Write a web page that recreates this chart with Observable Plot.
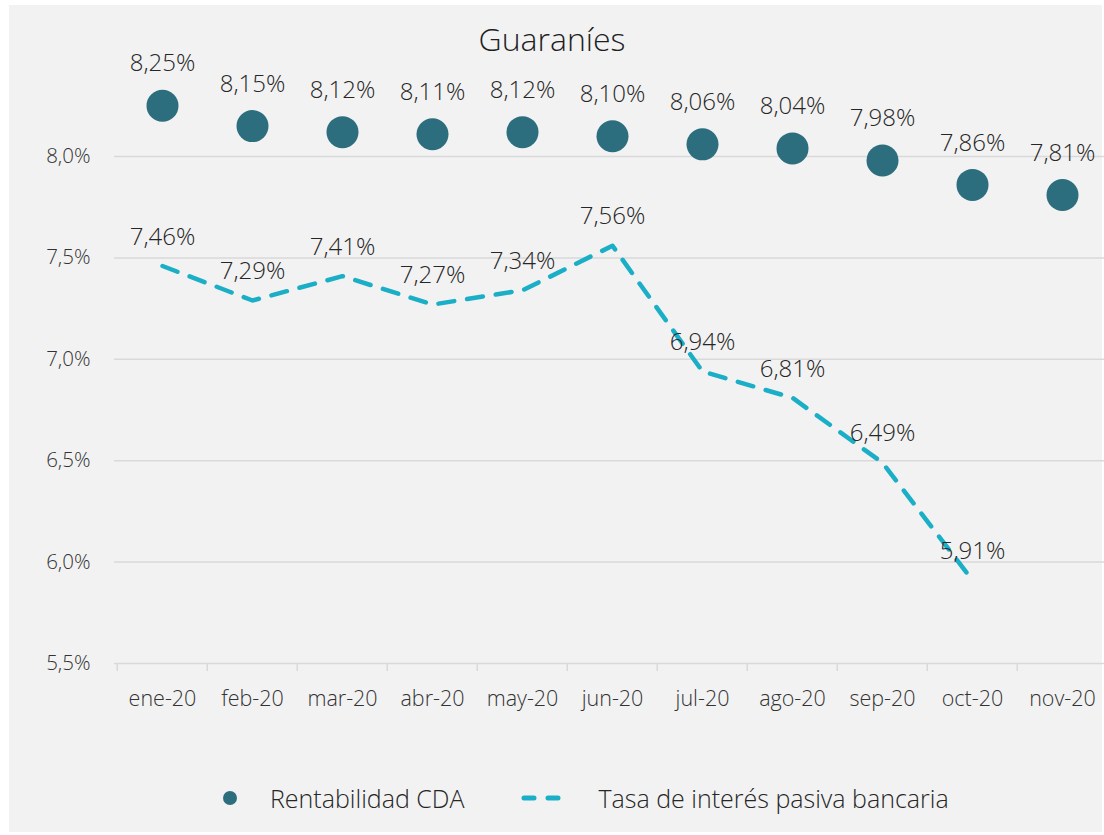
<!DOCTYPE html>
<html>
<head>
<meta charset="utf-8">
<script src="https://cdn.jsdelivr.net/npm/d3@7"></script>
<script src="https://cdn.jsdelivr.net/npm/@observablehq/plot@0.6"></script>
<style>
  body { margin: 0; background: #ffffff; font-family: "Open Sans", "Noto Sans", sans-serif; font-weight: 300; }
  #wrap { position: relative; width: 1104px; height: 835px; background: #ffffff; overflow: hidden; }
  #panel { position: absolute; left: 9px; top: 5px; width: 1093px; height: 827px; background: #f2f2f2; }
  #title { position: absolute; left: 0; top: 20px; width: 1104px; text-align: center; font-size: 32px; color: #1f1f1f; line-height: 1.2; }
  #plot { position: absolute; left: 0; top: 0; }
  #legend { position: absolute; left: 222px; top: 781px; display: flex; align-items: center; font-size: 25px; color: #262626; }
  #legend .item { display: flex; align-items: center; }
</style>
</head>
<body>
<div id="wrap">
  <div id="panel"></div>
  <div id="plot"></div>
  <div id="title">Guaraníes</div>
  <div id="legend">
    <div class="item">
      <svg width="16" height="16"><circle cx="8" cy="8" r="7" fill="#2c6e7e"/></svg>
      <span style="margin-left:32px">Rentabilidad CDA</span>
    </div>
    <div class="item" style="margin-left:56px">
      <svg width="44" height="12"><line x1="4" y1="6" x2="40" y2="6" stroke="#1aafc7" stroke-width="5" stroke-linecap="round" stroke-dasharray="10,14"/></svg>
      <span style="margin-left:34px">Tasa de interés pasiva bancaria</span>
    </div>
  </div>
</div>
<script>
const months = ["ene-20","feb-20","mar-20","abr-20","may-20","jun-20","jul-20","ago-20","sep-20","oct-20","nov-20"];
const rentabilidadCDA = [8.25,8.15,8.12,8.11,8.12,8.10,8.06,8.04,7.98,7.86,7.81];
const tasaPasiva = [7.46,7.29,7.41,7.27,7.34,7.56,6.94,6.81,6.49,5.91];
const yTicks = [5.5,6.0,6.5,7.0,7.5,8.0];

const cdaData = months.map((m,i) => ({month: m, v: rentabilidadCDA[i]}));
const tasaData = tasaPasiva.map((v,i) => ({month: months[i], v}));

const fmt2 = v => v.toFixed(2).replace(".", ",") + "%";
const fmt1 = v => v.toFixed(1).replace(".", ",") + "%";

const xRange = [114, 1109];
const halfBand = (xRange[1] - xRange[0]) / months.length / 2;

const chart = Plot.plot({
  width: 1104,
  height: 700,
  marginLeft: 114,
  marginRight: 0,
  marginTop: 54.6,
  marginBottom: 37,
  style: {background: "transparent", fontFamily: "'Open Sans', 'Noto Sans', sans-serif", fontWeight: 300, color: "#404040", overflow: "visible"},
  x: {type: "band", domain: months, range: xRange, padding: 0, label: null},
  y: {domain: [5.5, 8.5], label: null},
  marks: [
    Plot.ruleY(yTicks, {stroke: "#d9d9d9", strokeWidth: 1.5}),
    Plot.ruleX(months, {x: d => d, y1: 5.5, y2: 5.5, insetBottom: -8, dx: -halfBand, stroke: "#d9d9d9", strokeWidth: 1.5}),
    Plot.axisY({ticks: yTicks, tickSize: 0, tickPadding: 24, tickFormat: fmt1, fontSize: 20.5, fill: "#333333", label: null}),
    Plot.axisX({tickSize: 0, tickPadding: 27, fontSize: 21.5, fill: "#333333", label: null}),
    Plot.line(tasaData, {x: "month", y: "v", stroke: "#1aafc7", strokeWidth: 4.5, strokeDasharray: "16,13", strokeLinecap: "round"}),
    Plot.dot(cdaData, {x: "month", y: "v", r: 16, fill: "#2c6e7e"}),
    Plot.text(cdaData, {x: "month", y: "v", text: d => fmt2(d.v), dy: -42, fontSize: 24, fill: "#262626"}),
    Plot.text(tasaData, {x: "month", y: "v", text: d => fmt2(d.v), dy: -29, fontSize: 24, fill: "#262626"})
  ]
});
document.getElementById("plot").appendChild(chart);
</script>
</body>
</html>
